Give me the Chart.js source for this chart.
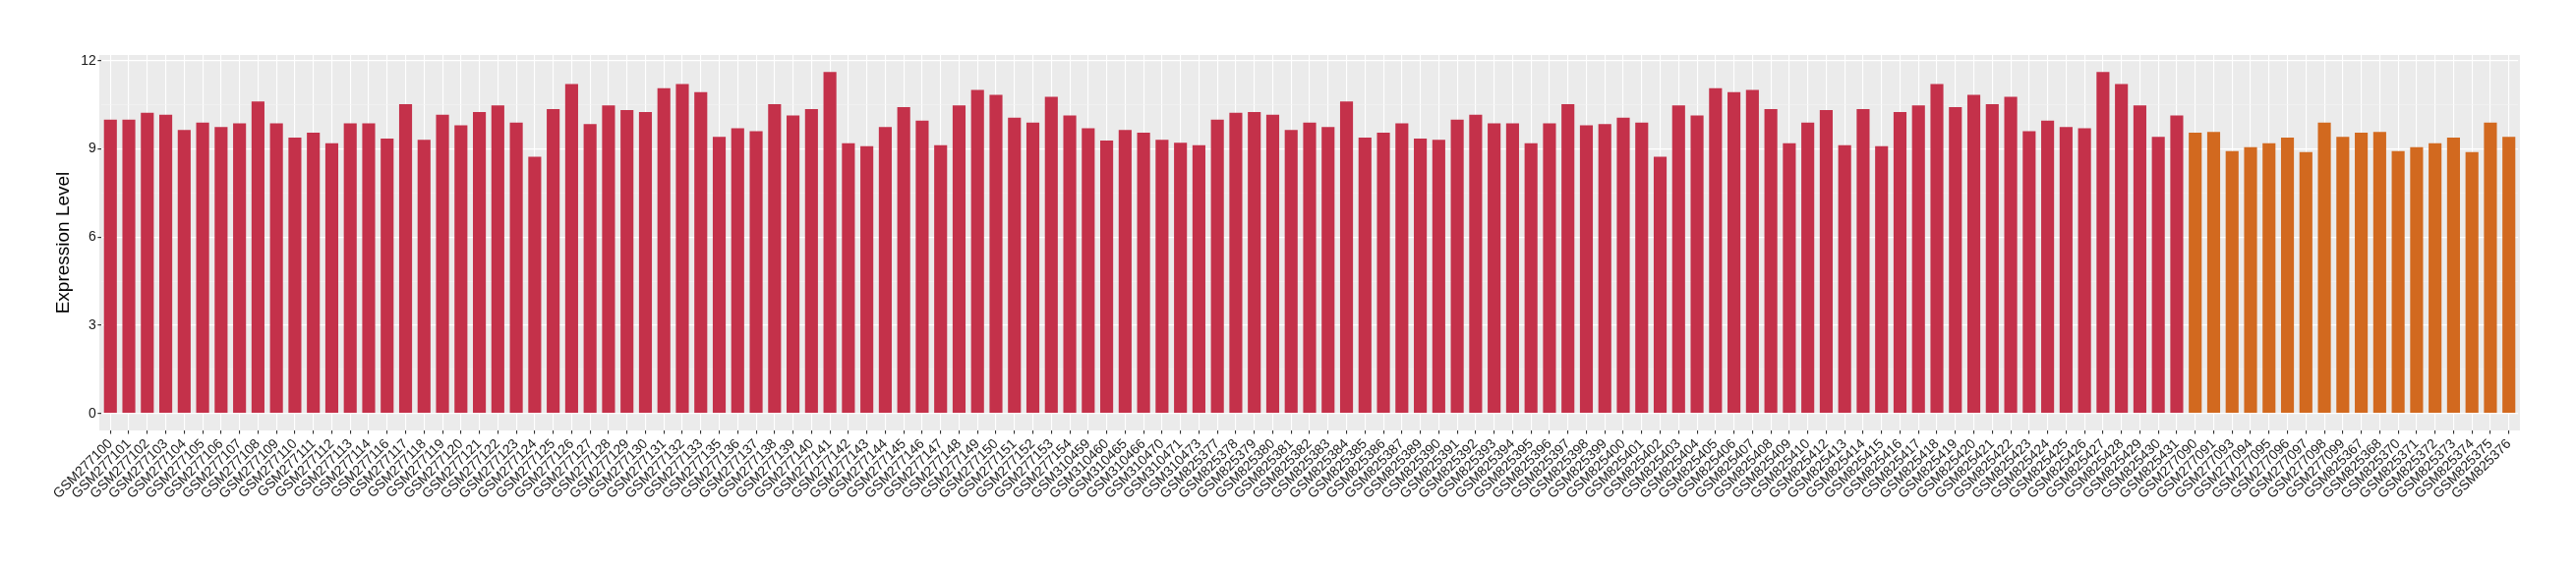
<!DOCTYPE html>
<html>
<head>
<meta charset="utf-8">
<script src="https://cdn.jsdelivr.net/npm/chart.js@4.4.0/dist/chart.umd.min.js"></script>
<style>
  body { margin: 0; background: #fff; }
</style>
</head>
<body>
<canvas id="expr-chart" width="2620" height="580"></canvas>
<script>
// sample ids, first group (red)
const groupASamples = [
    'GSM277100', 'GSM277101', 'GSM277102', 'GSM277103', 'GSM277104', 'GSM277105', 'GSM277106', 'GSM277107',
    'GSM277108', 'GSM277109', 'GSM277110', 'GSM277111', 'GSM277112', 'GSM277113', 'GSM277114', 'GSM277116',
    'GSM277117', 'GSM277118', 'GSM277119', 'GSM277120', 'GSM277121', 'GSM277122', 'GSM277123', 'GSM277124',
    'GSM277125', 'GSM277126', 'GSM277127', 'GSM277128', 'GSM277129', 'GSM277130', 'GSM277131', 'GSM277132',
    'GSM277133', 'GSM277135', 'GSM277136', 'GSM277137', 'GSM277138', 'GSM277139', 'GSM277140', 'GSM277141',
    'GSM277142', 'GSM277143', 'GSM277144', 'GSM277145', 'GSM277146', 'GSM277147', 'GSM277148', 'GSM277149',
    'GSM277150', 'GSM277151', 'GSM277152', 'GSM277153', 'GSM277154',
    'GSM310459', 'GSM310460', 'GSM310465', 'GSM310466', 'GSM310470', 'GSM310471', 'GSM310473',
    'GSM825377', 'GSM825378', 'GSM825379', 'GSM825380', 'GSM825381', 'GSM825382', 'GSM825383', 'GSM825384',
    'GSM825385', 'GSM825386', 'GSM825387', 'GSM825389', 'GSM825390', 'GSM825391', 'GSM825392', 'GSM825393',
    'GSM825394', 'GSM825395', 'GSM825396', 'GSM825397', 'GSM825398', 'GSM825399', 'GSM825400', 'GSM825401',
    'GSM825402', 'GSM825403', 'GSM825404', 'GSM825405', 'GSM825406', 'GSM825407', 'GSM825408', 'GSM825409',
    'GSM825410', 'GSM825412', 'GSM825413', 'GSM825414', 'GSM825415', 'GSM825416', 'GSM825417', 'GSM825418',
    'GSM825419', 'GSM825420', 'GSM825421', 'GSM825422', 'GSM825423', 'GSM825424', 'GSM825425', 'GSM825426',
    'GSM825427', 'GSM825428', 'GSM825429', 'GSM825430', 'GSM825431'
];

const groupAValues = [
    9.99, 9.99, 10.23, 10.16, 9.64, 9.89, 9.74, 9.87,
    10.61, 9.87, 9.38, 9.55, 9.19, 9.87, 9.87, 9.35,
    10.52, 9.31, 10.16, 9.80, 10.25, 10.48, 9.89, 8.73,
    10.35, 11.20, 9.84, 10.48, 10.32, 10.25, 11.06, 11.20,
    10.93, 9.41, 9.70, 9.60, 10.52, 10.13, 10.35, 11.61,
    9.19, 9.09, 9.74, 10.42, 9.96, 9.12, 10.48, 11.00,
    10.84, 10.06, 9.89, 10.77, 10.13,
    9.70, 9.28, 9.64, 9.55, 9.31, 9.21, 9.12,
    9.99, 10.23, 10.25, 10.16, 9.64, 9.89, 9.74, 10.61,
    9.38, 9.55, 9.87, 9.35, 9.31, 9.99, 10.16, 9.87,
    9.87, 9.19, 9.87, 10.52, 9.80, 9.84, 10.06, 9.89,
    8.73, 10.48, 10.13, 11.06, 10.93, 11.00, 10.35, 9.19,
    9.89, 10.32, 9.12, 10.35, 9.09, 10.25, 10.48, 11.20,
    10.42, 10.84, 10.52, 10.77, 9.60, 9.96, 9.74, 9.70,
    11.61, 11.20, 10.48, 9.41, 10.13
];

// second group (orange)
const groupBSamples = [
    'GSM277090', 'GSM277091', 'GSM277093', 'GSM277094', 'GSM277095', 'GSM277096', 'GSM277097', 'GSM277098',
    'GSM277099', 'GSM825367', 'GSM825368', 'GSM825370', 'GSM825371', 'GSM825372', 'GSM825373', 'GSM825374',
    'GSM825375', 'GSM825376'
];

const groupBValues = [
    9.55, 9.57, 8.92, 9.06, 9.19, 9.38, 8.89, 9.89,
    9.41, 9.55, 9.57, 8.92, 9.06, 9.19, 9.38, 8.89,
    9.89, 9.41
];

const yTicks = [0, 3, 6, 9, 12];
const yMinorTicks = [1.5, 4.5, 7.5, 10.5];

const groupAColor = '#C4314A';
const groupBColor = '#D2691F';

document.addEventListener('DOMContentLoaded', () => {
    const labels = groupASamples.concat(groupBSamples);
    const values = groupAValues.concat(groupBValues);
    const colors = groupASamples.map(() => groupAColor).concat(groupBSamples.map(() => groupBColor));

    // grey ggplot style panel, a little wider than the category band
    const panelBackground = {
        id: 'panelBackground',
        beforeDraw(chart) {
            const { ctx, chartArea, scales } = chart;
            const unit = scales.x.getPixelForValue(1) - scales.x.getPixelForValue(0);
            const pad = unit * 0.1;
            ctx.save();
            ctx.fillStyle = '#EBEBEB';
            ctx.fillRect(chartArea.left - pad, chartArea.top, chartArea.width + 2 * pad, chartArea.height);
            ctx.restore();
        }
    };

    const isMinor = (v) => yMinorTicks.includes(v);

    const ctx = document.getElementById('expr-chart').getContext('2d');
    window.exprChart = new Chart(ctx, {
        type: 'bar',
        data: {
            labels: labels,
            datasets: [{
                data: values,
                backgroundColor: colors,
                borderWidth: 0,
                categoryPercentage: 1,
                barPercentage: 0.7,
            }],
        },
        options: {
            responsive: false,
            animation: false,
            layout: {
                padding: { left: 0, top: 56, right: 58.9, bottom: 0 },
            },
            plugins: {
                legend: { display: false },
                tooltip: { enabled: false },
            },
            scales: {
                x: {
                    offset: true,
                    border: { display: false },
                    grid: {
                        offset: false,
                        color: '#FFFFFF',
                        lineWidth: 1.1,
                        tickColor: '#333333',
                        tickLength: 3.5,
                    },
                    ticks: {
                        autoSkip: false,
                        minRotation: 45,
                        maxRotation: 45,
                        padding: 2,
                        color: '#1A1A1A',
                        font: { family: 'Liberation Sans', size: 14 },
                    },
                    afterFit: (scale) => { scale.height = 142; },
                },
                y: {
                    min: -0.58,
                    max: 12.19,
                    border: { display: false },
                    afterBuildTicks: (scale) => {
                        scale.ticks = yTicks.concat(yMinorTicks).sort((a, b) => a - b).map(v => ({ value: v }));
                    },
                    grid: {
                        color: (c) => isMinor(c.tick.value) ? '#F4F4F4' : '#FFFFFF',
                        lineWidth: (c) => isMinor(c.tick.value) ? 0.6 : 1.2,
                        tickColor: (c) => isMinor(c.tick.value) ? 'rgba(0,0,0,0)' : '#333333',
                        tickLength: 3.5,
                    },
                    ticks: {
                        padding: 1.5,
                        color: '#1A1A1A',
                        font: { family: 'Liberation Sans', size: 14 },
                        callback: (v) => isMinor(v) ? '' : String(v),
                    },
                    title: {
                        display: true,
                        text: 'Expression Level',
                        color: '#000000',
                        font: { family: 'Liberation Sans', size: 19 },
                        padding: { top: 53.6, bottom: 0 },
                    },
                    afterFit: (scale) => { scale.width = 102.9; },
                },
            },
        },
        plugins: [panelBackground],
    });
});
</script>
</body>
</html>
